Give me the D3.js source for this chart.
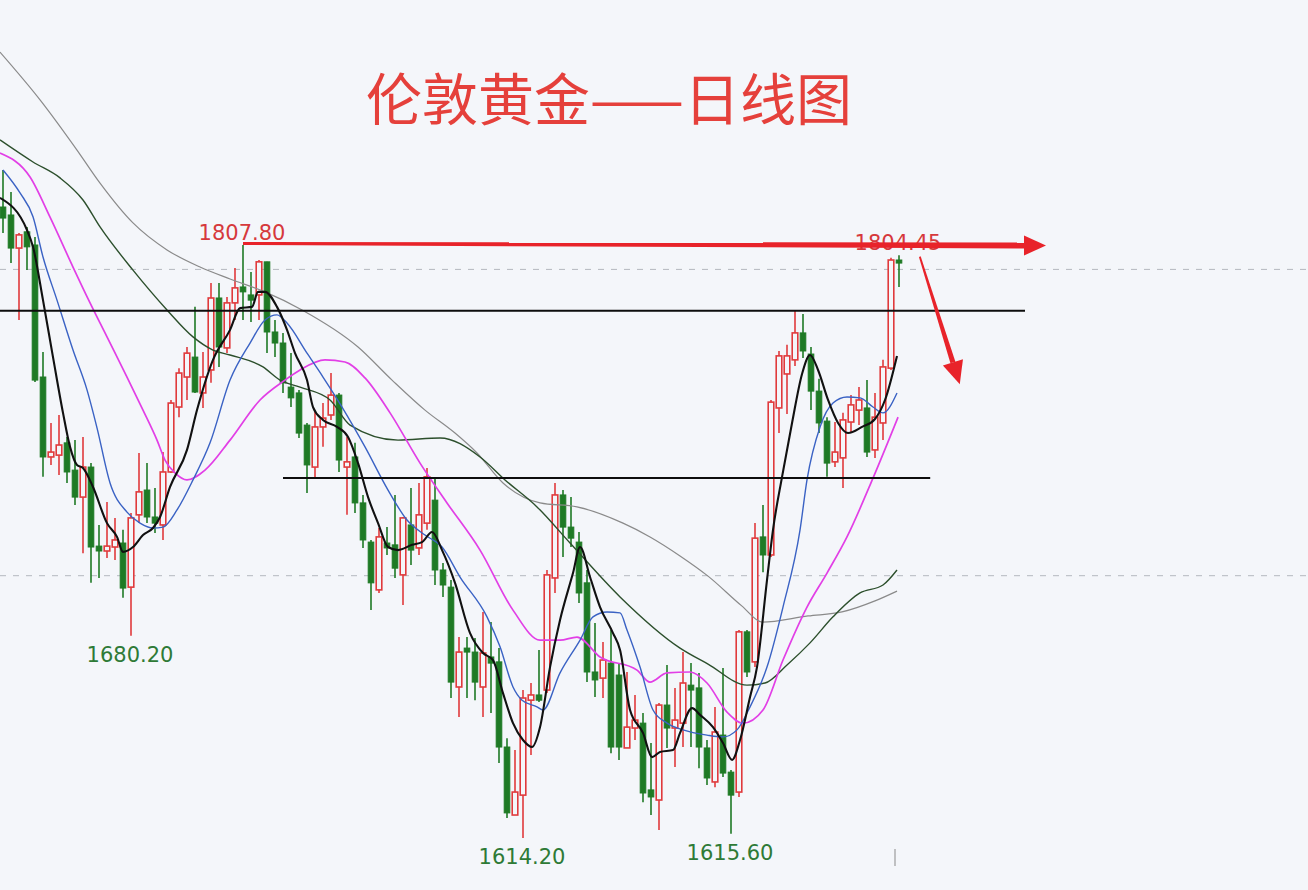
<!DOCTYPE html>
<html><head><meta charset="utf-8">
<script src="https://cdn.jsdelivr.net/npm/d3@7"></script>
<style>html,body{margin:0;padding:0;background:#f4f6fa;overflow:hidden}svg{display:block}</style>
</head><body><svg id="c" width="1308" height="890"></svg>
<script>
// ---------- data ----------
const days = d3.range(0, 113); // trading-day index
const open = [1820.2,1817.6,1806.8,1812.1,1807.8,1764.7,1738.6,1739.2,1743.2,1734.3,
1725.5,1735.3,1709.5,1707.9,1709.2,1710.5,1696.1,1719.7,1727.8,1719.0,
1716.4,1733.7,1754.9,1764.7,1771.2,1759.5,1767.0,1790.5,1774.2,1788.9,
1794.1,1791.5,1791.5,1802.3,1779.4,1775.8,1761.4,1759.5,1749.0,1735.3,
1748.4,1752.3,1758.8,1735.3,1738.6,1723.6,1710.8,1695.2,1710.5,1709.9,
1700.1,1716.4,1708.9,1717.0,1724.5,1701.7,1696.1,1663.5,1676.2,1674.9,
1663.5,1673.3,1671.7,1643.9,1621.7,1628.2,1659.2,1660.9,1662.5,1699.1,
1726.2,1715.7,1710.8,1697.5,1668.4,1666.4,1671.3,1667.4,1643.6,1650.1,
1651.7,1629.9,1626.6,1657.6,1650.1,1651.7,1664.1,1663.2,1643.6,1632.5,
1647.8,1635.7,1629.2,1681.5,1671.7,1712.5,1706.6,1754.6,1765.7,1770.3,
1779.1,1772.2,1760.1,1750.3,1737.0,1738.3,1750.0,1753.9,1754.6,1740.9,
1749.7,1767.6,1802.9];
const close = [1816.6,1806.8,1811.1,1807.2,1763.7,1738.6,1740.2,1742.5,1733.7,1725.5,
1735.3,1709.2,1707.9,1709.5,1711.5,1695.8,1718.7,1727.2,1719.0,1717.0,
1733.7,1756.2,1766.0,1772.5,1759.8,1764.7,1790.5,1774.5,1788.9,1793.8,
1792.5,1789.8,1802.3,1779.4,1775.8,1762.8,1757.9,1746.4,1736.0,1748.4,
1751.3,1758.8,1737.6,1737.0,1723.6,1711.5,1697.5,1712.5,1708.9,1702.3,
1718.7,1708.2,1719.7,1732.1,1701.7,1696.8,1665.1,1674.9,1674.9,1665.1,
1674.6,1671.3,1643.9,1622.4,1629.2,1659.9,1660.9,1659.2,1700.1,1726.2,
1715.7,1712.1,1694.2,1668.4,1665.8,1672.3,1643.9,1643.9,1650.4,1652.7,
1628.9,1627.6,1657.6,1650.1,1652.7,1664.8,1662.5,1643.9,1633.8,1648.8,
1635.4,1628.2,1681.5,1668.4,1712.1,1706.6,1756.5,1771.6,1771.6,1779.1,
1773.2,1760.1,1749.7,1736.6,1740.2,1750.7,1755.6,1757.2,1740.2,1751.6,
1768.0,1802.9,1801.9];
const high = [1832.3,1825.1,1811.7,1813.7,1810.4,1772.9,1749.7,1752.3,1745.1,1744.1,
1745.1,1736.6,1716.4,1723.9,1718.7,1714.8,1720.3,1739.9,1736.6,1728.5,
1740.2,1757.2,1767.6,1774.5,1787.6,1772.9,1795.4,1795.4,1790.8,1800.3,
1807.8,1799.0,1802.9,1802.3,1783.3,1779.1,1772.5,1760.5,1749.7,1753.3,
1756.2,1766.0,1759.5,1745.1,1743.2,1726.2,1711.5,1715.4,1715.7,1726.2,
1719.0,1728.5,1730.1,1735.0,1731.7,1704.0,1698.4,1679.8,1679.8,1679.5,
1688.0,1684.7,1676.2,1646.8,1642.9,1662.5,1664.8,1675.6,1701.7,1730.1,
1727.8,1725.5,1714.1,1701.7,1684.4,1678.2,1682.1,1671.3,1668.4,1660.9,
1655.0,1645.2,1658.3,1670.7,1663.2,1674.9,1671.3,1668.1,1646.2,1657.0,
1669.7,1636.4,1682.1,1682.1,1717.0,1722.9,1757.2,1773.2,1775.2,1786.3,
1785.3,1774.5,1764.1,1751.6,1750.0,1753.0,1758.8,1761.4,1763.7,1759.5,
1770.3,1803.6,1804.45];
const low = [1811.7,1801.9,1783.3,1799.6,1763.1,1732.1,1736.0,1732.7,1730.1,1722.9,
1707.2,1697.5,1699.1,1705.6,1705.0,1692.6,1680.2,1717.0,1717.0,1713.8,
1711.5,1733.4,1751.6,1757.2,1759.5,1754.6,1762.8,1768.0,1772.5,1783.3,
1783.3,1782.7,1783.3,1772.5,1771.2,1759.5,1754.9,1744.8,1726.8,1731.7,
1741.9,1750.7,1733.7,1719.7,1720.3,1708.9,1688.6,1694.2,1706.6,1699.1,
1690.3,1703.3,1706.6,1714.8,1696.8,1692.9,1659.9,1653.7,1659.9,1659.2,
1653.7,1655.0,1638.7,1620.7,1621.7,1614.2,1641.3,1658.6,1661.5,1694.2,
1705.9,1709.2,1690.9,1665.1,1660.2,1659.9,1641.9,1639.7,1643.6,1646.2,
1625.9,1621.7,1616.8,1643.6,1637.4,1643.9,1643.9,1637.0,1631.5,1630.8,
1634.1,1615.6,1627.6,1666.8,1670.0,1701.0,1705.9,1746.4,1752.6,1768.3,
1770.9,1753.9,1746.4,1732.1,1735.3,1728.5,1746.4,1749.0,1738.6,1738.3,
1744.1,1767.0,1794.1];

// moving averages as [day index, price]
const ma5 = [[-0.38,1823.2],[3,1812.7],[3.75,1807.2],[5,1789.8],[6.25,1771.2],[7.5,1753.0],[8.38,1741.9],[9.25,1736.0],[10,1735.0],[11.25,1728.8],[13,1717.0],[14.25,1712.5],[15,1707.6],[16.25,1709.2],[17.5,1713.1],[18.75,1715.4],[19.63,1719.0],[20.88,1728.8],[23,1740.9],[24.25,1753.9],[26.25,1770.3],[28.38,1780.1],[29.63,1787.2],[31.13,1787.6],[31.88,1792.5],[32.75,1792.5],[34.25,1787.6],[35.5,1780.1],[36.5,1772.5],[38,1763.7],[38.75,1754.9],[40,1750.7],[41.75,1748.4],[43.13,1745.1],[44.38,1736.6],[45.63,1725.5],[46.88,1717.0],[48.13,1709.2],[49.38,1708.2],[51.13,1709.9],[52.38,1710.8],[53.63,1714.1],[54.88,1708.2],[56.5,1697.5],[58.38,1681.1],[60,1674.6],[61.25,1672.3],[62.5,1661.5],[63.75,1651.7],[65,1646.2],[66.13,1643.9],[67.13,1650.4],[68.38,1670.0],[69.63,1685.4],[71.25,1700.7],[72.13,1709.2],[73.38,1699.4],[74.63,1689.6],[76.25,1681.1],[77.13,1675.6],[78.38,1656.0],[80,1648.5],[81.13,1640.6],[82.13,1642.3],[83.75,1642.9],[84.63,1648.5],[86.13,1656.6],[87.13,1654.4],[88.75,1650.4],[90,1645.2],[91.13,1639.7],[92.13,1646.2],[93.38,1660.2],[94.25,1670.0],[95.5,1698.4],[96.25,1714.8],[97.38,1732.1],[98.63,1749.7],[99.88,1765.7],[100.88,1771.9],[101.88,1767.0],[103.13,1757.2],[104.38,1749.7],[105.63,1746.4],[107.38,1748.4],[109,1751.0],[110.25,1757.2],[111.75,1771.6]];
const ma10 = [[0,1832.3],[2.13,1824.8],[3.75,1817.0],[5,1803.9],[6.75,1789.8],[8.75,1773.5],[10.5,1760.5],[11.75,1748.1],[13.38,1730.1],[15.5,1720.6],[17.13,1717.0],[18.75,1715.4],[20,1715.7],[21.75,1721.3],[23.75,1731.1],[25.88,1743.2],[28.38,1763.7],[30.88,1775.8],[32.75,1783.3],[34.25,1785.0],[35.5,1782.3],[38,1772.5],[40,1764.7],[42.38,1754.9],[45.25,1741.9],[48.13,1727.8],[50.5,1718.0],[52.75,1713.1],[54.88,1709.2],[57.13,1699.4],[60.5,1686.4],[62.13,1676.6],[63.75,1663.5],[64.88,1659.2],[66.75,1657.0],[67.5,1656.0],[69.63,1668.1],[72.13,1678.8],[73.75,1686.4],[75.5,1688.0],[77.13,1687.7],[78,1682.1],[79.63,1670.0],[81.25,1656.0],[83,1651.7],[85,1649.5],[88,1647.8],[90,1647.2],[91.75,1649.5],[93.38,1657.0],[95.5,1670.0],[97.5,1689.6],[99.63,1714.8],[100.5,1731.1],[102.13,1748.4],[103.75,1756.2],[105.5,1758.2],[107.13,1757.9],[108.75,1754.9],[110,1753.0],[111.75,1759.5]];
const ma20 = [[-0.38,1837.8],[3.38,1830.0],[5.88,1816.9],[8.75,1800.6],[10.88,1788.9],[13,1777.8],[15.5,1764.7],[17.5,1753.9],[19.25,1744.1],[20.25,1737.6],[21.5,1733.4],[23,1731.1],[25.25,1734.3],[28.38,1744.1],[32.13,1757.2],[35.25,1763.7],[37.13,1767.0],[40.25,1770.3],[42.75,1769.6],[45.25,1764.4],[48.38,1753.0],[52.13,1736.6],[55.5,1723.6],[59.63,1708.2],[63.75,1688.6],[67.13,1678.8],[69.63,1678.8],[71.75,1679.8],[74.63,1673.3],[79.25,1669.0],[80.88,1665.1],[83,1668.1],[85.88,1668.4],[88,1664.8],[90.5,1655.3],[92.5,1651.7],[95,1656.0],[97.5,1672.3],[100.5,1689.6],[103,1700.7],[105.5,1712.5],[108.75,1731.7],[111.88,1751.6]];
const ma60 = [[-0.38,1842.1],[3.75,1834.9],[7.13,1829.7],[10,1822.5],[12.13,1813.7],[16.25,1799.6],[20.5,1786.6],[23.75,1777.8],[26.25,1773.5],[28.38,1771.9],[32.5,1768.0],[34.63,1763.7],[37.13,1761.4],[40.88,1757.2],[43.38,1749.0],[49.38,1744.1],[54.63,1744.8],[59.63,1738.6],[62.75,1731.1],[66.75,1722.3],[70.88,1710.5],[77.13,1692.9],[84.63,1676.2],[88.13,1671.0],[93,1664.1],[95.25,1664.8],[98,1670.7],[100.88,1677.9],[103.75,1686.4],[107.13,1694.2],[110,1696.8],[111.75,1701.7]];
const ma120 = [[-0.38,1870.8],[4.63,1855.2],[9.25,1838.8],[12.13,1828.0],[16.25,1815.0],[20.5,1806.2],[24.63,1800.6],[28.38,1796.7],[32.75,1792.5],[37.38,1786.6],[44.38,1774.5],[48.63,1763.7],[52.75,1753.9],[56.5,1746.4],[59.25,1739.9],[62.5,1730.1],[67.13,1723.6],[71.75,1722.3],[77.5,1717.0],[80.88,1712.5],[84.63,1706.3],[88.13,1699.7],[92.38,1689.9],[94.88,1684.7],[100.63,1686.7],[104.88,1688.0],[109,1691.6],[111.75,1694.8]];

const gridLevels = [1700, 1800];          // dashed price grid
const supportLevels = [1786.3, 1731.7];   // black drawn lines
const supportFrom = [-0.4, 35];           // day index where each line starts
const supportTo = [127.75, 115.9];        // day index where each line ends
const highLabels = [{i:30, v:1807.80, t:"1807.80"}, {i:112, v:1804.45, t:"1804.45"}];
const lowLabels = [{i:16, v:1680.20, t:"1680.20"}, {i:65, v:1614.20, t:"1614.20"}, {i:91, v:1615.60, t:"1615.60"}];
const title = "伦敦黄金——日线图";

// ---------- drawing ----------
const W = 1308, H = 890, BG = "#f4f6fa";
const RED = "#e03a3c", GREEN = "#1f7a25";
const svg = d3.select("#c");
svg.append("rect").attr("width", W).attr("height", H).attr("fill", BG);

const x = d3.scaleLinear().domain([0, 112]).range([3, 899]);
const y = d3.scaleLinear().domain([1614.2, 1807.8]).range([838, 245]);

// grid via axis
const grid = svg.append("g").call(d3.axisLeft(y).tickValues(gridLevels).tickSize(-W).tickFormat(""));
grid.select(".domain").remove();
grid.selectAll(".tick line").attr("stroke", "#b4b8bf").attr("stroke-width", 1).attr("stroke-dasharray", "6,7");

// candles
const candles = days.map(i => ({i, o: open[i], h: high[i], l: low[i], c: close[i]}));
const cg = svg.append("g");
cg.selectAll("line.wick").data(candles).join("line").attr("class", "wick")
  .attr("x1", d => x(d.i)).attr("x2", d => x(d.i))
  .attr("y1", d => y(d.h)).attr("y2", d => y(d.l))
  .attr("stroke", d => d.c >= d.o ? RED : GREEN).attr("stroke-width", 1.6);
cg.selectAll("rect.body").data(candles).join("rect").attr("class", "body")
  .attr("x", d => x(d.i) - 2.8).attr("width", 5.6)
  .attr("y", d => y(Math.max(d.o, d.c)))
  .attr("height", d => Math.max(2, Math.abs(y(d.o) - y(d.c))))
  .attr("fill", d => d.c >= d.o ? BG : GREEN)
  .attr("stroke", d => d.c >= d.o ? RED : GREEN)
  .attr("stroke-width", d => d.c >= d.o ? 1.6 : 1);

// moving averages
const line = d3.line().x(d => x(d[0])).y(d => y(d[1])).curve(d3.curveMonotoneX);
const mas = [
  {d: ma120, c: "#8a8a8a", w: 1.2},
  {d: ma60, c: "#2c4f2c", w: 1.4},
  {d: ma20, c: "#e23fe6", w: 1.7},
  {d: ma10, c: "#3a62c4", w: 1.4},
  {d: ma5, c: "#111111", w: 2.1}
];
svg.append("g").selectAll("path").data(mas).join("path")
  .attr("d", m => line(m.d)).attr("fill", "none")
  .attr("stroke", m => m.c).attr("stroke-width", m => m.w).attr("stroke-linejoin", "round");

// black horizontal lines
svg.append("g").selectAll("line").data(supportLevels).join("line")
  .attr("x1", (v, k) => x(supportFrom[k])).attr("x2", (v, k) => x(supportTo[k]))
  .attr("y1", v => y(v)).attr("y2", v => y(v))
  .attr("stroke", "#0d0d0d").attr("stroke-width", 2);

// labels
const FONT = "'DejaVu Sans', Verdana, sans-serif";
svg.append("g").selectAll("text").data(highLabels).join("text")
  .attr("x", d => x(d.i) - 1).attr("y", d => y(d.v) - 5)
  .attr("text-anchor", "middle").attr("font-family", FONT).attr("font-size", 21)
  .attr("fill", "#d6393c").text(d => d.t);
svg.append("g").selectAll("text").data(lowLabels).join("text")
  .attr("x", d => x(d.i) - 1).attr("y", d => y(d.v) + 26)
  .attr("text-anchor", "middle").attr("font-family", FONT).attr("font-size", 21)
  .attr("fill", "#2e7a36").text(d => d.t);

// red arrows
const hiY = y(highLabels[0].v);
const xs = x(highLabels[0].i), xe = x(128);
svg.append("polygon").attr("fill", "#e8232a")
  .attr("points", [[xs, hiY - 3], [xe, hiY - 2.5], [xe, hiY + 3.5], [xs, hiY]].join(" "));
svg.append("polygon").attr("fill", "#e8232a")
  .attr("points", [[xe - 3, hiY - 9.5], [xe + 19, hiY + 0.5], [xe - 3, hiY + 10.5]].join(" "));
// diagonal arrow
const a0 = [x(114.6), y(1804.0)], tip = [x(119.6), y(1762.3)];
const dx = tip[0] - a0[0], dy = tip[1] - a0[1], len = Math.hypot(dx, dy);
const ux = dx / len, uy = dy / len, px = -uy, py = ux;
const base = [tip[0] - 23 * ux, tip[1] - 23 * uy];
svg.append("polygon").attr("fill", "#e8232a").attr("points", [
  [a0[0] + px * 0.9, a0[1] + py * 0.9], [base[0] + px * 2.6, base[1] + py * 2.6],
  [base[0] - px * 2.6, base[1] - py * 2.6], [a0[0] - px * 0.9, a0[1] - py * 0.9]].join(" "));
svg.append("polygon").attr("fill", "#e8232a").attr("points", [
  [base[0] + px * 10.5, base[1] + py * 10.5], tip, [base[0] - px * 10.5, base[1] - py * 10.5]].join(" "));

// small tick at bottom
svg.append("line").attr("x1", x(111.5)).attr("x2", x(111.5)).attr("y1", 849).attr("y2", 866)
  .attr("stroke", "#8a8a8a").attr("stroke-width", 1);

// title
svg.append("text").attr("x", 609).attr("y", 120).attr("text-anchor", "middle")
  .attr("font-family", "'Noto Sans CJK SC', sans-serif").attr("font-size", 56)
  .attr("fill", "#e5403b").text(title);
</script>
</body></html>
